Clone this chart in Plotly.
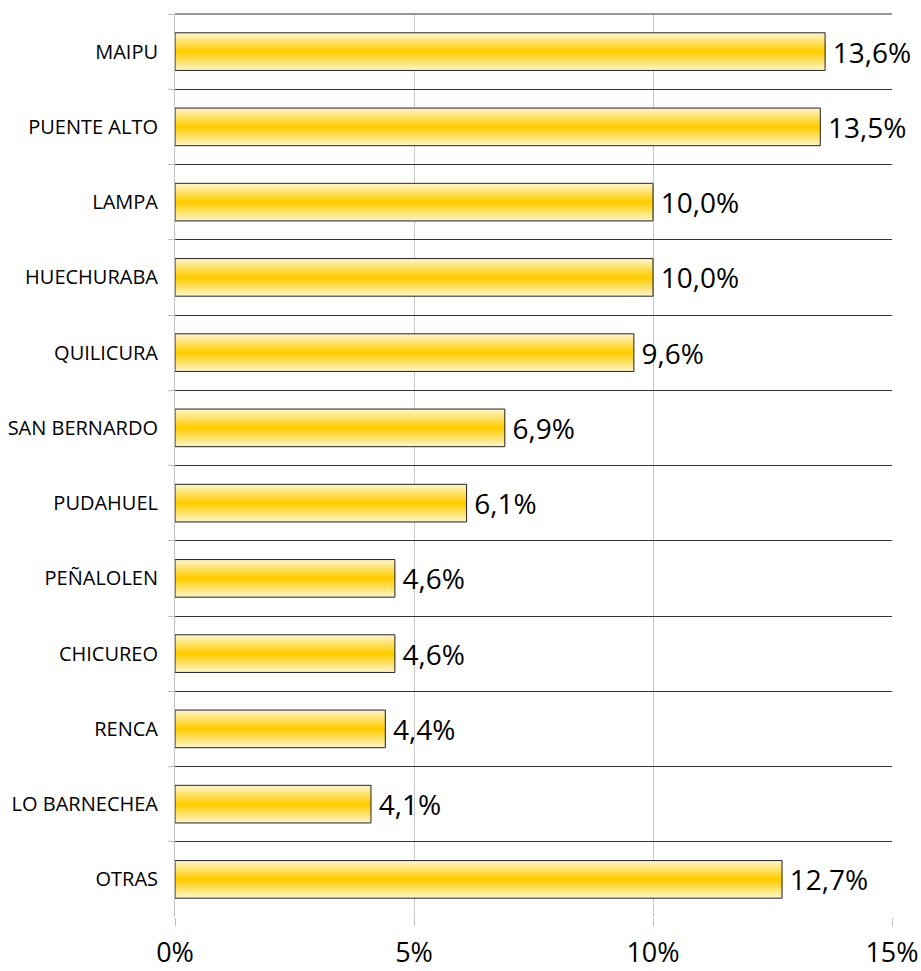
import plotly.graph_objects as go

categories = ["MAIPU", "PUENTE ALTO", "LAMPA", "HUECHURABA", "QUILICURA", "SAN BERNARDO",
              "PUDAHUEL", "PEÑALOLEN", "CHICUREO", "RENCA", "LO BARNECHEA", "OTRAS"]
values = [13.6, 13.5, 10.0, 10.0, 9.6, 6.9, 6.1, 4.6, 4.6, 4.4, 4.1, 12.7]
tick_vals = [0, 5, 10, 15]
tick_text = ["0%", "5%", "10%", "15%"]

FONT = "Open Sans"
BAR_W = 0.5
N_LAYERS = 18
edge = (255, 245, 200)
center = (255, 204, 0)

fig = go.Figure()
# gradient layers (overlaid bars of decreasing width)
for k in range(N_LAYERS):
    t = k / (N_LAYERS - 1)
    col = tuple(round(edge[i] + (center[i] - edge[i]) * t) for i in range(3))
    w = BAR_W * (1 - k / N_LAYERS)
    fig.add_trace(go.Bar(
        y=categories, x=values, orientation="h", width=w,
        marker=dict(color="rgb(%d,%d,%d)" % col, line=dict(width=0)),
        hoverinfo="skip", showlegend=False,
    ))

labels = ["\u2009" + f"{v:.1f}%".replace(".", ",") for v in values]
fig.add_trace(go.Bar(
    y=categories, x=values, orientation="h", width=BAR_W,
    marker=dict(color="rgba(0,0,0,0)", line=dict(color="#222222", width=1)),
    text=labels, textposition="outside", constraintext="none", cliponaxis=False,
    textfont=dict(family=FONT, size=28, color="#000000"),
    showlegend=False,
))

fig.update_layout(
    width=921, height=971,
    margin=dict(l=175, r=29, t=14, b=54),
    barmode="overlay",
    plot_bgcolor="#FFFFFF", paper_bgcolor="#FFFFFF",
    font=dict(family=FONT, color="#000000"),
    shapes=[dict(type="line", xref="paper", yref="paper", x0=0, x1=1, y0=1, y1=1,
                 line=dict(color="#333333", width=1))],
)
fig.update_xaxes(
    range=[0, 15], tickvals=tick_vals, ticktext=tick_text,
    showgrid=True, gridcolor="#C8C8C8", gridwidth=1,
    zeroline=False, showline=False, automargin=False,
    ticks="outside", ticklen=8, tickcolor="#C0C0C0",
    tickfont=dict(family=FONT, size=27, color="#000000"),
    ticklabelstandoff=4,
)
fig.update_yaxes(
    type="category", categoryorder="array", categoryarray=categories,
    autorange="reversed", tickson="boundaries", automargin=False,
    showgrid=True, gridcolor="#333333", gridwidth=1,
    showline=True, linecolor="#C0C0C0", linewidth=1,
    ticks="outside", ticklen=6, tickcolor="#C0C0C0",
    tickfont=dict(family=FONT, size=20, color="#000000"),
    ticklabelstandoff=12,
)

fig.write_html("out.html", config={"displayModeBar": False},
               post_script="document.body.style.margin='0';")
